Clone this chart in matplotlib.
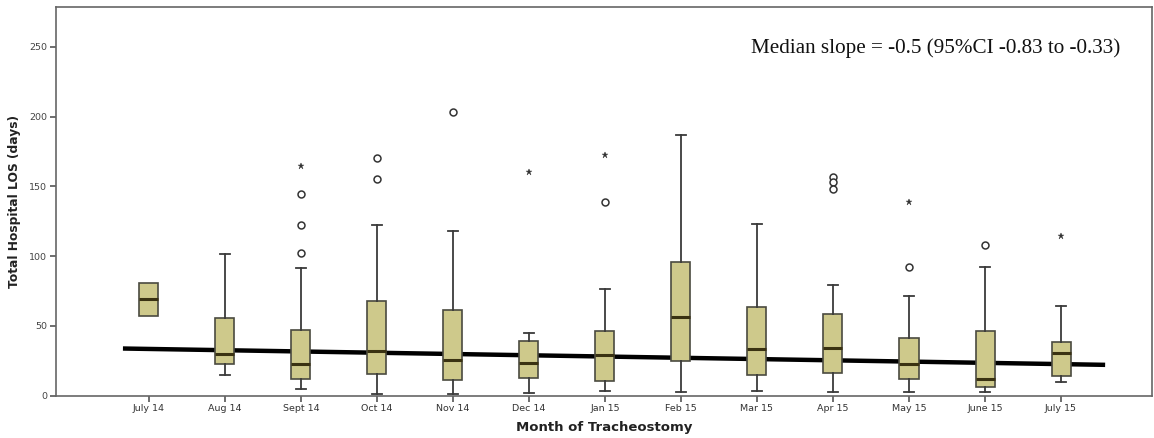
import matplotlib
matplotlib.use("Agg")
import matplotlib.pyplot as plt
import numpy as np

months = ["July 14", "Aug 14", "Sept 14", "Oct 14", "Nov 14", "Dec 14", "Jan 15",
          "Feb 15", "Mar 15", "Apr 15", "May 15", "June 15", "July 15"]
whislo = [57, 14.5, 5, 1, 1, 2, 3.3, 2.4, 3.3, 2.4, 2.4, 2.4, 9.5]
q1     = [57, 22.5, 12, 15.3, 11.4, 13, 10.2, 24.5, 14.5, 16.2, 12.1, 6, 14.3]
median = [69, 30.2, 22.4, 32, 25.7, 23.3, 29.3, 56.4, 33.6, 34.3, 22.9, 12.1, 30.5]
q3     = [81, 55.8, 47, 68, 61.4, 39.5, 46.7, 96, 63.3, 58.3, 41.2, 46, 38.3]
whishi = [81, 101.3, 91.2, 122.6, 118, 45, 76.4, 187, 123, 79.3, 71.4, 92.4, 64.3]
outliers_circle = [[], [], [144.3, 122.4, 102], [170.5, 155.2], [203], [], [139],
                   [], [], [157, 153, 148], [92.4], [108.3], []]
outliers_star = [[], [], [164.5], [], [], [160], [172.6], [], [], [], [139], [], [114.3]]
trend_x = [-0.34, 12.58]
trend_y = [33.8, 22.1]
yticks = [0, 50, 100, 150, 200, 250]
annotation = "Median slope = -0.5 (95%CI -0.83 to -0.33)"

fig = plt.figure(figsize=(11.54, 4.38), dpi=100)
ax = fig.add_axes([0.0483, 0.0966, 0.9502, 0.8881])

pos = np.arange(len(months))
ax.plot(trend_x, trend_y, color="black", lw=3.2, zorder=1, solid_capstyle="butt")

stats = []
for i in range(len(months)):
    stats.append(dict(label=months[i], whislo=whislo[i], q1=q1[i], med=median[i],
                      q3=q3[i], whishi=whishi[i], fliers=[]))
bp = ax.bxp(stats, positions=pos, widths=0.25, patch_artist=True, showfliers=False,
            boxprops=dict(facecolor="#CEC98B", edgecolor="#4a4a40", linewidth=1.2),
            medianprops=dict(color="#3a3212", linewidth=2.2),
            whiskerprops=dict(color="#3a3a3a", linewidth=1.3),
            capprops=dict(color="#3a3a3a", linewidth=1.3),
            capwidths=0.13, zorder=3)
# first group has no whiskers: hide its caps
bp["caps"][0].set_visible(False)
bp["caps"][1].set_visible(False)

for i in range(len(months)):
    if outliers_circle[i]:
        ax.plot([pos[i]] * len(outliers_circle[i]), outliers_circle[i], ls="none",
                marker="o", markersize=5, markerfacecolor="white",
                markeredgecolor="#333333", markeredgewidth=1.1, zorder=4)
    if outliers_star[i]:
        ax.plot([pos[i]] * len(outliers_star[i]), outliers_star[i], ls="none",
                marker="*", markersize=4.5, markeredgewidth=0.3, color="#333333", zorder=4)

ax.set_xlim(-1.224, 13.2)
ax.set_ylim(0, 278.7)
ax.set_xticks(pos)
ax.set_xticklabels(months, fontsize=6.8, color="#333333")
ax.set_yticks(yticks)
ax.set_yticklabels([str(t) for t in yticks], fontsize=6.8, color="#444444")
ax.tick_params(axis="both", length=4, width=1.2, color="#555555", pad=2)
for s in ax.spines.values():
    s.set_color("#666666")
    s.set_linewidth(1.2)

ax.set_xlabel("Month of Tracheostomy", fontsize=9.5, fontweight="bold", color="#222222", labelpad=6)
ax.set_ylabel("Total Hospital LOS (days)", fontsize=8.8, fontweight="bold", color="#222222", labelpad=6)

ax.text(0.9705, 0.894, annotation, transform=ax.transAxes, ha="right", va="center",
        fontsize=15.2, family="Liberation Serif", color="#111111")

fig.savefig("out.png", dpi=100)
